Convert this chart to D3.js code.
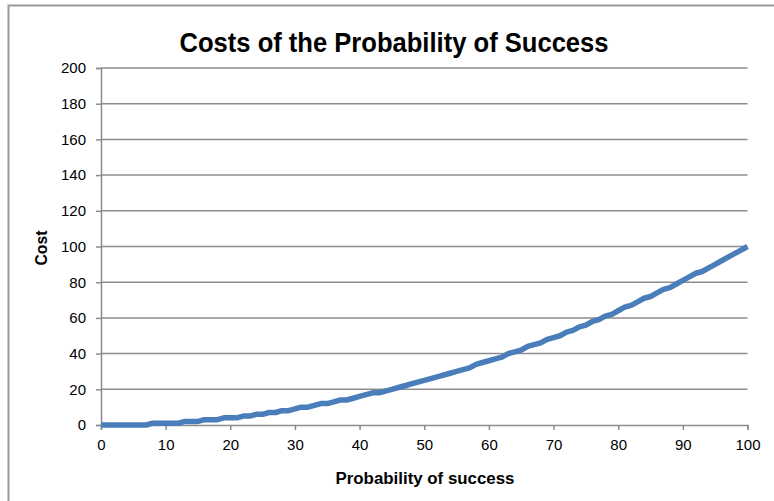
<!DOCTYPE html>
<html>
<head>
<meta charset="utf-8">
<script src="https://cdn.jsdelivr.net/npm/d3@7"></script>
<style>
  body { margin: 0; background: #fff; }
  text { font-family: "Liberation Sans", Arial, sans-serif; }
  .tick text { font-size: 15px; fill: #000; }
</style>
</head>
<body>
<div id="chart"></div>
<script>
var width = 774
var height = 501
var margins = { left: 101, right: 26.5, top: 68, bottom: 76 }

// probability of success (x) and cost (y)
var probability = d3.range(0, 101)
var cost = [
  0, 0, 0, 0, 0, 0, 0, 0, 1, 1,
  1, 1, 1, 2, 2, 2, 3, 3, 3, 4,
  4, 4, 5, 5, 6, 6, 7, 7, 8, 8,
  9, 10, 10, 11, 12, 12, 13, 14, 14, 15,
  16, 17, 18, 18, 19, 20, 21, 22, 23, 24,
  25, 26, 27, 28, 29, 30, 31, 32, 34, 35,
  36, 37, 38, 40, 41, 42, 44, 45, 46, 48,
  49, 50, 52, 53, 55, 56, 58, 59, 61, 62,
  64, 66, 67, 69, 71, 72, 74, 76, 77, 79,
  81, 83, 85, 86, 88, 90, 92, 94, 96, 98,
  100
]
var xTicks = [0, 10, 20, 30, 40, 50, 60, 70, 80, 90, 100]
var yTicks = [0, 20, 40, 60, 80, 100, 120, 140, 160, 180, 200]

var svg = d3.select("#chart").append("svg").attr("width", width).attr("height", height)

// outer chart frame
svg.append("rect")
  .attr("x", 8.5).attr("y", 5.5)
  .attr("width", width).attr("height", height)
  .attr("fill", "none").attr("stroke", "#9a9a9a").attr("stroke-width", 2)

var x = d3.scaleLinear().domain([0, 100]).range([margins.left, width - margins.right])
var y = d3.scaleLinear().domain([0, 200]).range([height - margins.bottom, margins.top])

// gridlines
svg.append("g")
  .selectAll("line")
  .data(yTicks.filter(d => d > 0))
  .enter()
  .append("line")
    .attr("x1", x(0)).attr("x2", x(100))
    .attr("y1", d => y(d)).attr("y2", d => y(d))
    .attr("stroke", "#8c8c8c").attr("stroke-width", 1.5)

var yAxis = svg.append("g")
  .attr("transform", "translate(" + x(0) + ",0)")
  .call(d3.axisLeft(y).tickValues(yTicks).tickSize(5).tickPadding(10))
var xAxis = svg.append("g")
  .attr("transform", "translate(0," + y(0) + ")")
  .call(d3.axisBottom(x).tickValues(xTicks).tickSize(5).tickPadding(9))

;[xAxis, yAxis].forEach(function(g) {
  g.select(".domain").attr("stroke", "#8c8c8c").attr("stroke-width", 1.5)
  g.selectAll(".tick line").attr("stroke", "#8c8c8c").attr("stroke-width", 1.5)
})

var line = d3.line()
  .x((d, i) => x(probability[i]))
  .y(d => y(d))

svg.append("path")
  .datum(cost)
  .attr("fill", "none")
  .attr("stroke", "#4a7ebb")
  .attr("stroke-width", 5.5)
  .attr("stroke-linejoin", "round")
  .attr("d", line)

svg.append("text")
  .attr("x", 394).attr("y", 52)
  .attr("text-anchor", "middle")
  .attr("textLength", 429).attr("lengthAdjust", "spacingAndGlyphs")
  .style("font-size", "28px").style("font-weight", "bold")
  .text("Costs of the Probability of Success")

svg.append("text")
  .attr("x", 425).attr("y", 484)
  .attr("text-anchor", "middle")
  .attr("textLength", 179).attr("lengthAdjust", "spacingAndGlyphs")
  .style("font-size", "16px").style("font-weight", "bold")
  .text("Probability of success")

svg.append("text")
  .attr("transform", "translate(47,248) rotate(-90)")
  .attr("text-anchor", "middle")
  .attr("textLength", 35).attr("lengthAdjust", "spacingAndGlyphs")
  .style("font-size", "16px").style("font-weight", "bold")
  .text("Cost")
</script>
</body>
</html>
